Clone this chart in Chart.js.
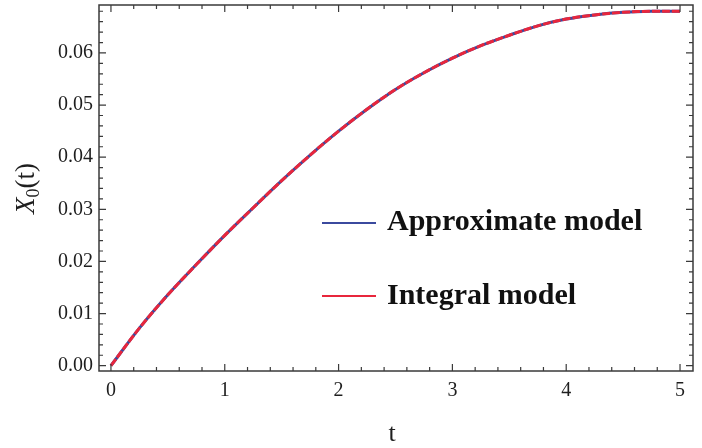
<!DOCTYPE html>
<html>
<head>
<meta charset="utf-8">
<script src="https://cdn.jsdelivr.net/npm/chart.js@4.4.1/dist/chart.umd.min.js"></script>
<style>
  html, body { margin: 0; padding: 0; background: #ffffff; }
  #wrap { width: 702px; height: 448px; }
</style>
</head>
<body>
<div id="wrap"><canvas id="chart" width="702" height="448"></canvas></div>
<script>
// Time samples and the two model responses X0(t)
const tValues = [0, 0.25, 0.5, 0.75, 1, 1.25, 1.5, 1.75, 2, 2.25, 2.5,
                 2.75, 3, 3.25, 3.5, 3.75, 4, 4.25, 4.5, 4.75, 5];
const approximateModel = [0, 0.0072, 0.0136, 0.0194, 0.0250, 0.0303, 0.0355,
                          0.0404, 0.0450, 0.0492, 0.0530, 0.0562, 0.0590,
                          0.0614, 0.0634, 0.0652, 0.0665, 0.0673, 0.0678,
                          0.0680, 0.0680];
const integralModel = [0, 0.0072, 0.0136, 0.0194, 0.0250, 0.0303, 0.0355,
                       0.0404, 0.0450, 0.0492, 0.0530, 0.0562, 0.0590,
                       0.0614, 0.0634, 0.0652, 0.0665, 0.0673, 0.0678,
                       0.0680, 0.0680];
const seriesLabels = ['Approximate model', 'Integral model'];
const xTickValues = [0, 1, 2, 3, 4, 5];
const yTickValues = [0, 0.01, 0.02, 0.03, 0.04, 0.05, 0.06];
const xMinorStep = 0.2;
const yMinorStep = 0.002;

const SERIF = '"Liberation Serif", "Times New Roman", serif';
const BLUE = '#3b4a9e';
const RED = '#e8263c';
const FRAME = '#3a3a3a';

const toPoints = (ys) => tValues.map((t, i) => ({ x: t, y: ys[i] }));

// Frame with inward major/minor ticks on all four sides
const framePlugin = {
  id: 'frame',
  afterDatasetsDraw(chart) {
    const { ctx, chartArea: a, scales: { x, y } } = chart;
    ctx.save();
    ctx.strokeStyle = FRAME;
    ctx.lineWidth = 1.5;
    ctx.strokeRect(a.left, a.top, a.right - a.left, a.bottom - a.top);
    ctx.lineWidth = 1.2;
    const major = 7, minor = 4;
    ctx.beginPath();
    for (let v = 0; v <= 5.0001; v += xMinorStep) {
      const px = x.getPixelForValue(v);
      const isMajor = Math.abs(v - Math.round(v)) < 1e-6;
      const len = isMajor ? major : minor;
      ctx.moveTo(px, a.bottom); ctx.lineTo(px, a.bottom - len);
      ctx.moveTo(px, a.top); ctx.lineTo(px, a.top + len);
    }
    for (let v = 0; v <= 0.0690; v += yMinorStep) {
      const py = y.getPixelForValue(v);
      const isMajor = Math.abs(v / 0.01 - Math.round(v / 0.01)) < 1e-6;
      const len = isMajor ? major : minor;
      ctx.moveTo(a.left, py); ctx.lineTo(a.left + len, py);
      ctx.moveTo(a.right, py); ctx.lineTo(a.right - len, py);
    }
    ctx.stroke();
    ctx.restore();
  },
  afterDraw(chart) {
    const { ctx, scales: { x, y } } = chart;
    ctx.save();
    ctx.fillStyle = '#1e1e1e';
    // horizontal axis title
    ctx.font = '26px ' + SERIF;
    ctx.textAlign = 'center';
    ctx.textBaseline = 'alphabetic';
    ctx.fillText('t', x.getPixelForValue(2.47), 441);
    // vertical axis title: X with subscript 0, then (t)
    const cy = y.getPixelForValue(0.034);
    ctx.translate(34, cy);
    ctx.rotate(-Math.PI / 2);
    const fMain = 'italic 27px ' + SERIF;
    const fSub = '18px ' + SERIF;
    const fRest = '27px ' + SERIF;
    ctx.font = fMain; const wX = ctx.measureText('X').width;
    ctx.font = fSub; const w0 = ctx.measureText('0').width;
    ctx.font = fRest; const wR = ctx.measureText('(t)').width;
    let sx = -(wX + w0 + wR) / 2;
    ctx.textAlign = 'left';
    ctx.font = fMain; ctx.fillText('X', sx, 0); sx += wX;
    ctx.font = fSub; ctx.fillText('0', sx, 5); sx += w0;
    ctx.font = fRest; ctx.fillText('(t)', sx, 0);
    ctx.restore();

    // legend inside the plot
    ctx.save();
    const rows = [
      { label: chart.data.datasets[1].label, color: BLUE, base: 230, lineY: 223 },
      { label: chart.data.datasets[0].label, color: RED, base: 304, lineY: 296 }
    ];
    ctx.font = 'bold 30px ' + SERIF;
    ctx.textAlign = 'left';
    ctx.textBaseline = 'alphabetic';
    rows.forEach(r => {
      ctx.strokeStyle = r.color;
      ctx.lineWidth = 2;
      ctx.beginPath();
      ctx.moveTo(322, r.lineY); ctx.lineTo(376, r.lineY);
      ctx.stroke();
      ctx.fillStyle = '#111';
      ctx.fillText(r.label, 387, r.base);
    });
    ctx.restore();
  }
};

new Chart(document.getElementById('chart'), {
  type: 'line',
  data: {
    datasets: [
      {
        label: seriesLabels[1],
        data: toPoints(integralModel),
        borderColor: RED,
        borderWidth: 3,
        borderDash: [8, 2],
        pointRadius: 0,
        tension: 0.35,
        fill: false,
        order: 0
      },
      {
        label: seriesLabels[0],
        data: toPoints(approximateModel),
        borderColor: BLUE,
        borderWidth: 3,
        pointRadius: 0,
        tension: 0.35,
        fill: false,
        order: 1
      }
    ]
  },
  options: {
    responsive: false,
    animation: false,
    layout: { padding: { left: 0, top: 5, right: 9, bottom: 0 } },
    plugins: { legend: { display: false }, tooltip: { enabled: false } },
    scales: {
      x: {
        type: 'linear',
        min: -0.105,
        max: 5.114,
        grid: { display: false, drawTicks: false },
        border: { display: false },
        afterBuildTicks: (s) => { s.ticks = xTickValues.map(v => ({ value: v })); },
        afterFit: (s) => { s.height = 77; s.paddingLeft = 0; s.paddingRight = 0; },
        ticks: {
          padding: 8,
          color: '#1e1e1e',
          font: { family: SERIF, size: 20 },
          maxRotation: 0,
          callback: (v) => String(v)
        }
      },
      y: {
        type: 'linear',
        min: -0.00102,
        max: 0.0692,
        grid: { display: false, drawTicks: false },
        border: { display: false },
        afterBuildTicks: (s) => { s.ticks = yTickValues.map(v => ({ value: v })); },
        afterFit: (s) => { s.width = 99; s.paddingTop = 0; s.paddingBottom = 0; },
        ticks: {
          padding: 6,
          color: '#1e1e1e',
          font: { family: SERIF, size: 20 },
          callback: (v) => Number(v).toFixed(2)
        }
      }
    }
  },
  plugins: [framePlugin]
});
</script>
</body>
</html>
